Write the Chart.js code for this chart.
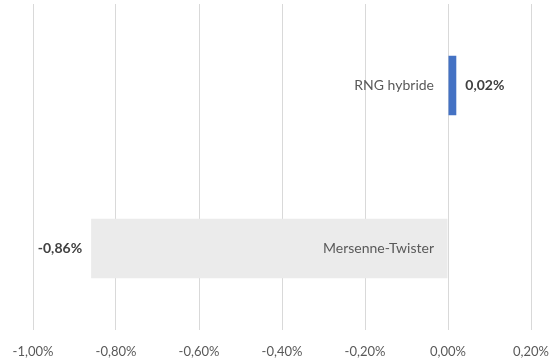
<!DOCTYPE html>
<html lang="fr">
<head>
  <meta charset="UTF-8">
  <title>RNG hybride vs Mersenne-Twister</title>
  <script src="https://cdn.jsdelivr.net/npm/chart.js"></script>
  <style>
    body { margin: 0; background: #fff; }
  </style>
</head>
<body>
  <canvas id="chart" width="550" height="362"></canvas>
  <script>
    // data (percent)
    const categories = ['RNG hybride', 'Mersenne-Twister'];
    const values = [0.02, -0.86];
    const barColors = ['#4472C4', '#EBEBEB'];
    const xTicks = [-1.0, -0.8, -0.6, -0.4, -0.2, 0.0, 0.2];

    const fmt = v => v.toFixed(2).replace('.', ',') + '%';
    const FONT = 'Lato, "Open Sans", sans-serif';

    // category names sit left of the zero line, values sit at the bar ends
    const barLabels = {
      id: 'barLabels',
      afterDatasetsDraw(chart) {
        const ctx = chart.ctx;
        const meta = chart.getDatasetMeta(0);
        const zeroX = chart.scales.x.getPixelForValue(0);
        ctx.save();
        ctx.textBaseline = 'middle';
        meta.data.forEach((bar, i) => {
          const v = values[i];
          ctx.font = '14px ' + FONT;
          ctx.fillStyle = '#595959';
          ctx.textAlign = 'right';
          ctx.fillText(categories[i], zeroX - 14, bar.y);

          ctx.font = 'bold 14px ' + FONT;
          ctx.fillStyle = '#404040';
          if (v >= 0) {
            ctx.textAlign = 'left';
            ctx.fillText(fmt(v), bar.x + 9, bar.y);
          } else {
            ctx.textAlign = 'right';
            ctx.fillText(fmt(v), bar.x - 9, bar.y);
          }
        });
        ctx.restore();
      }
    };

    new Chart(document.getElementById('chart'), {
      type: 'bar',
      data: {
        labels: categories,
        datasets: [{
          data: values,
          backgroundColor: barColors,
          borderWidth: 0,
          barPercentage: 0.73,
          categoryPercentage: 0.5
        }]
      },
      options: {
        indexAxis: 'y',
        responsive: false,
        animation: false,
        devicePixelRatio: 1,
        layout: { padding: { top: 4, left: 33, right: 19, bottom: 0 } },
        plugins: { legend: { display: false }, tooltip: { enabled: false } },
        scales: {
          x: {
            min: -1.0,
            max: 0.2,
            afterBuildTicks: axis => { axis.ticks = xTicks.map(v => ({ value: v })); },
            afterFit: axis => {
              // let the end labels run to the canvas edges
              axis.paddingLeft = 0;
              axis.paddingRight = 0;
              axis.height = 32;
            },
            ticks: {
              callback: v => fmt(v),
              color: '#595959',
              font: { family: FONT, size: 13 },
              padding: 14,
              maxRotation: 0,
              autoSkip: false
            },
            grid: { color: '#D9D9D9', drawTicks: false },
            border: { display: false }
          },
          y: {
            display: false
          }
        }
      },
      plugins: [barLabels]
    });
  </script>
</body>
</html>
